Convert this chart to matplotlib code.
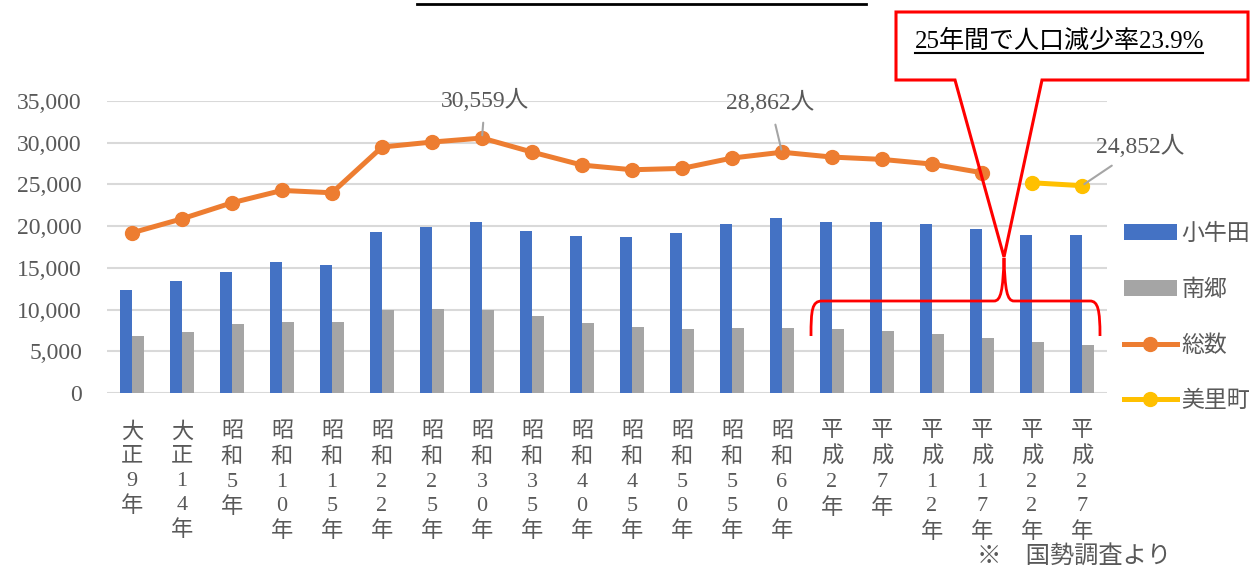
import matplotlib
matplotlib.use("Agg")
import matplotlib.pyplot as plt
import numpy as np
from matplotlib.path import Path
from matplotlib.patches import PathPatch, Polygon
from matplotlib.lines import Line2D
from matplotlib.ticker import StrMethodFormatter

plt.rcParams['font.family'] = ['Liberation Serif', 'Noto Sans CJK JP', 'DejaVu Sans']

years = ["大正9年", "大正14年", "昭和5年", "昭和10年", "昭和15年", "昭和22年",
         "昭和25年", "昭和30年", "昭和35年", "昭和40年", "昭和45年", "昭和50年",
         "昭和55年", "昭和60年", "平成2年", "平成7年", "平成12年", "平成17年",
         "平成22年", "平成27年"]
kogota = [12400, 13480, 14520, 15670, 15400, 19320, 19840, 20480, 19440, 18800,
          18680, 19160, 20240, 20920, 20440, 20440, 20200, 19600, 18920, 18950]
nango = [6800, 7360, 8240, 8520, 8520, 10000, 10120, 10000, 9280, 8440,
         7960, 7680, 7800, 7840, 7640, 7480, 7080, 6640, 6160, 5760]
total = [19200, 20880, 22800, 24280, 24000, 29480, 30080, 30559, 28880, 27320,
         26760, 26920, 28160, 28862, 28280, 28000, 27440, 26400]
misato = [25200, 24852]

GRAY_TXT = '#595959'
W, H = 1252, 570

fig = plt.figure(figsize=(W / 100, H / 100), dpi=100)
ax = fig.add_axes([107 / W, 1 - 393 / H, 1000 / W, 292 / H])

x = np.arange(len(years))
bw = 0.233
b1 = ax.bar(x - bw / 2, kogota, width=bw, color='#4472C4', label='小牛田', zorder=2)
b2 = ax.bar(x + bw / 2, nango, width=bw, color='#A5A5A5', label='南郷', zorder=2)
xt = x[:len(total)]
xm = x[len(total):]
l1, = ax.plot(xt, total, color='#ED7D31', lw=3.6, marker='o', ms=10, label='総数', zorder=3)
l2, = ax.plot(xm, misato, color='#FFC000', lw=3.6, marker='o', ms=10, label='美里町', zorder=3)

ax.set_xlim(-0.5, len(years) - 0.5)
ax.set_ylim(0, 35000)
ax.set_yticks(np.arange(0, 35001, 5000))
ax.yaxis.set_major_formatter(StrMethodFormatter('{x:,.0f}'))
ax.grid(axis='y', color='#d9d9d9', lw=1.5, zorder=0)
ax.set_axisbelow(True)
for s in ax.spines.values():
    s.set_visible(False)
ax.tick_params(axis='y', length=0, pad=18, labelsize=17, labelcolor=GRAY_TXT)
ax.set_xticks(x)
ax.set_xticklabels(["\n".join(list(y)) for y in years], fontsize=16,
                   color=GRAY_TXT, linespacing=1.36, va='top')
ax.tick_params(axis='x', length=0, pad=21)

# data labels
lab_kw = dict(textcoords='offset pixels', ha='center', va='center', fontsize=17,
              color=GRAY_TXT,
              arrowprops=dict(arrowstyle='-', color='#a5a5a5', lw=1.5,
                              shrinkA=6, shrinkB=2))
ax.annotate(f"{total[7]:,}人", xy=(xt[7], total[7]), xytext=(3, 38), **lab_kw)
ax.annotate(f"{total[13]:,}人", xy=(xt[13], total[13]), xytext=(-12, 50), **lab_kw)
ax.annotate(f"{misato[-1]:,}人", xy=(xm[-1], misato[-1]), xytext=(58, 39), **lab_kw)

fig.legend([b1, b2, l1, l2], ['小牛田', '南郷', '総数', '美里町'],
           loc='upper left', bbox_to_anchor=(1124 / W, 1 - 224 / H), frameon=False,
           fontsize=16.5, labelcolor=GRAY_TXT, handlelength=2.3, handletextpad=0.2,
           labelspacing=1.5, borderpad=0, borderaxespad=0, numpoints=1)


def px(px_x, px_y):
    return (px_x / W, 1 - px_y / H)


# title underline (title text is cut off at the top)
fig.add_artist(Line2D([417 / W, 866 / W], [1 - 4 / H, 1 - 4 / H], color='black', lw=2))

# callout box
callout = Polygon([px(896, 12), px(1248, 12), px(1248, 80), px(1042, 80),
                   px(1004, 257), px(955, 80), px(896, 80)], closed=True,
                  facecolor='none', edgecolor='#FF0000', lw=2.2,
                  transform=fig.transFigure, zorder=10)
fig.add_artist(callout)
fig.text(915 / W, 1 - 41 / H, "25年間で人口減少率23.9%", fontsize=18,
         color='black', va='center', ha='left', zorder=11)
fig.add_artist(Line2D([915 / W, 1203 / W], [1 - 53 / H, 1 - 53 / H], color='black', lw=1.5))

# brace
verts = [px(811, 336), px(811, 310), px(812, 301), px(822, 301),
         px(994, 301),
         px(1001, 301), px(1003, 290), px(1004, 258),
         px(1005, 290), px(1007, 301), px(1014, 301),
         px(1090, 301),
         px(1098, 301), px(1100, 310), px(1100, 336)]
codes = [Path.MOVETO, Path.CURVE4, Path.CURVE4, Path.CURVE4,
         Path.LINETO,
         Path.CURVE4, Path.CURVE4, Path.CURVE4,
         Path.CURVE4, Path.CURVE4, Path.CURVE4,
         Path.LINETO,
         Path.CURVE4, Path.CURVE4, Path.CURVE4]
fig.add_artist(PathPatch(Path(verts, codes), facecolor='none', edgecolor='#FF0000',
                         lw=2, transform=fig.transFigure, zorder=10))

fig.text(977 / W, 1 - 556 / H, "※　国勢調査より", fontsize=17.5, color=GRAY_TXT,
         ha='left', va='center')

fig.savefig("out.png", dpi=100)
